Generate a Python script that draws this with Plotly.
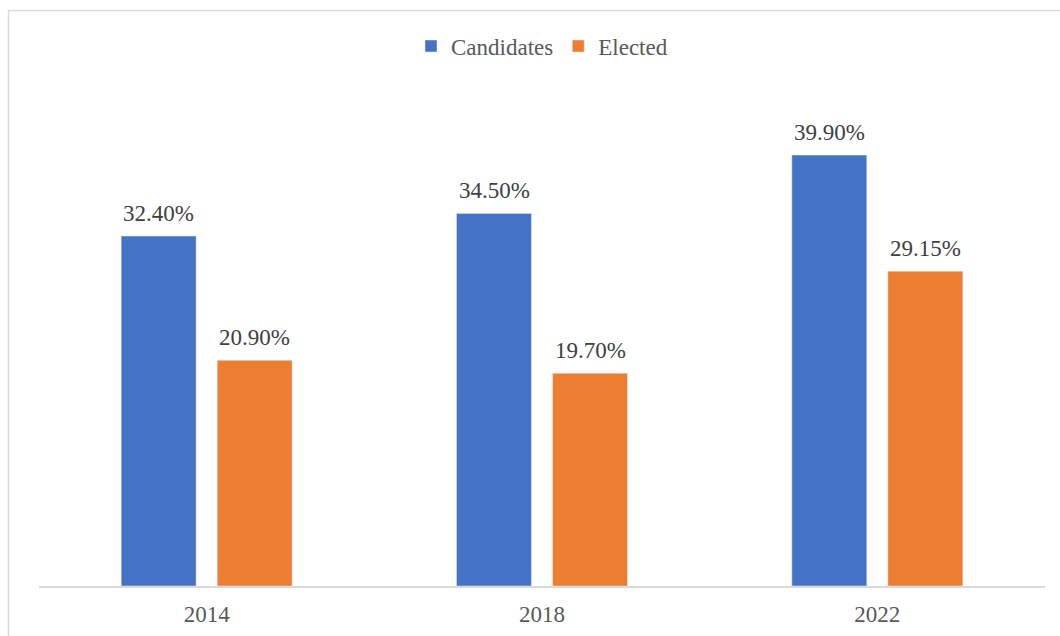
import plotly.graph_objects as go

years = ["2014", "2018", "2022"]
candidates = [32.40, 34.50, 39.90]
elected = [20.90, 19.70, 29.15]

BLUE = "#4472C4"
ORANGE = "#ED7D31"
FONT = "Liberation Serif"

fig = go.Figure()
fig.add_trace(go.Bar(name="Candidates", x=years, y=candidates, marker_color=BLUE))
fig.add_trace(go.Bar(name="Elected", x=years, y=elected, marker_color=ORANGE))

# value labels above each bar (x given as category index), offset to each bar of the pair
for series, shift in ((candidates, -48), (elected, 48)):
    for i, v in enumerate(series):
        fig.add_annotation(
            x=i, y=v, text=f"{v:.2f}%", showarrow=False,
            xshift=shift, yshift=23, yanchor="middle",
            font=dict(family=FONT, size=23, color="#404040"),
        )

# outer chart border
fig.add_shape(type="rect", xref="paper", yref="paper",
              x0=-0.0303, y0=-0.3, x1=1.2, y1=1.184,
              line=dict(color="#d9d9d9", width=1.5), layer="below")

fig.update_layout(
    width=1060, height=636,
    margin=dict(l=39, r=15, t=100, b=50, autoexpand=False),
    paper_bgcolor="white", plot_bgcolor="white",
    barmode="group", bargap=0.427, bargroupgap=0.22,
    font=dict(family=FONT, size=23, color="#595959"),
    showlegend=True,
    legend=dict(orientation="h", x=0.5, xanchor="center", y=1.111, yanchor="middle",
                font=dict(family=FONT, size=23, color="#595959"),
                itemwidth=30, tracegroupgap=0),
    xaxis=dict(type="category", range=[-0.5, 2.5], showline=True, linecolor="#d9d9d9",
               linewidth=1.5, ticks="", showgrid=False, zeroline=False,
               ticklabelstandoff=7, automargin=False,
               tickfont=dict(family=FONT, size=23, color="#595959")),
    yaxis=dict(range=[0, 45], visible=False, showgrid=False, zeroline=False,
               automargin=False),
)

fig.write_html("out.html")
